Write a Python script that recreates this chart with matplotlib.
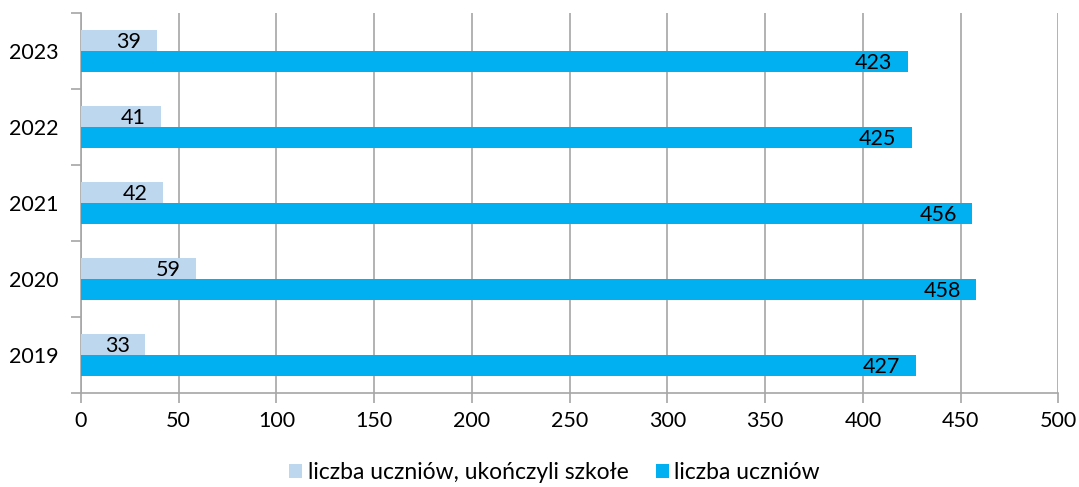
import matplotlib.pyplot as plt
import numpy as np

plt.rcParams['font.family'] = ['Lato', 'DejaVu Sans']

years = ['2019', '2020', '2021', '2022', '2023']
graduates = [33, 59, 42, 41, 39]
students = [427, 458, 456, 425, 423]
labels = ['liczba uczniów, ukończyli szkołe', 'liczba uczniów']

light = '#BDD7EE'
dark = '#00B0F0'
grid_col = '#A6A6A6'

fig = plt.figure(figsize=(10.79, 4.87), dpi=100)
ax = fig.add_axes([0.075, 0.193, 0.906, 0.78])

y = np.arange(len(years))
h = 0.28
b1 = ax.barh(y + h / 2, graduates, height=h, color=light, label=labels[0], zorder=3)
b2 = ax.barh(y - h / 2, students, height=h, color=dark, label=labels[1], zorder=3)

for bars, vals in [(b1, graduates), (b2, students)]:
    for bar, v in zip(bars, vals):
        ax.text(v - 8, bar.get_y() + bar.get_height() / 2 - 0.02, str(v),
                ha='right', va='center', fontsize=15.5, color='black', zorder=4)

ax.set_xlim(0, 500)
ax.set_ylim(-0.5, len(years) - 0.5)
ax.set_xticks(np.arange(0, 501, 50))
ax.set_yticks(y)
ax.set_yticklabels(years)
ax.set_yticks(np.arange(-0.5, len(years), 1), minor=True)
ax.tick_params(axis='y', which='major', length=0, labelsize=15.5, pad=16)
ax.tick_params(axis='y', which='minor', length=7, color=grid_col, width=1.2)
ax.tick_params(axis='x', length=7, color=grid_col, width=1.2, labelsize=15.5, pad=6)
ax.xaxis.grid(True, color=grid_col, linewidth=1.2, zorder=0)

for s in ['top', 'right']:
    ax.spines[s].set_visible(False)
for s in ['left', 'bottom']:
    ax.spines[s].set_color(grid_col)
    ax.spines[s].set_linewidth(1.2)

fig.legend(handles=[b1, b2], labels=labels, loc='lower center', ncol=2,
           bbox_to_anchor=(0.514, -0.035), frameon=False, fontsize=16.5,
           handlelength=0.55, handleheight=0.55, handletextpad=0.25, columnspacing=1.2)

fig.savefig('out.png', dpi=100)
